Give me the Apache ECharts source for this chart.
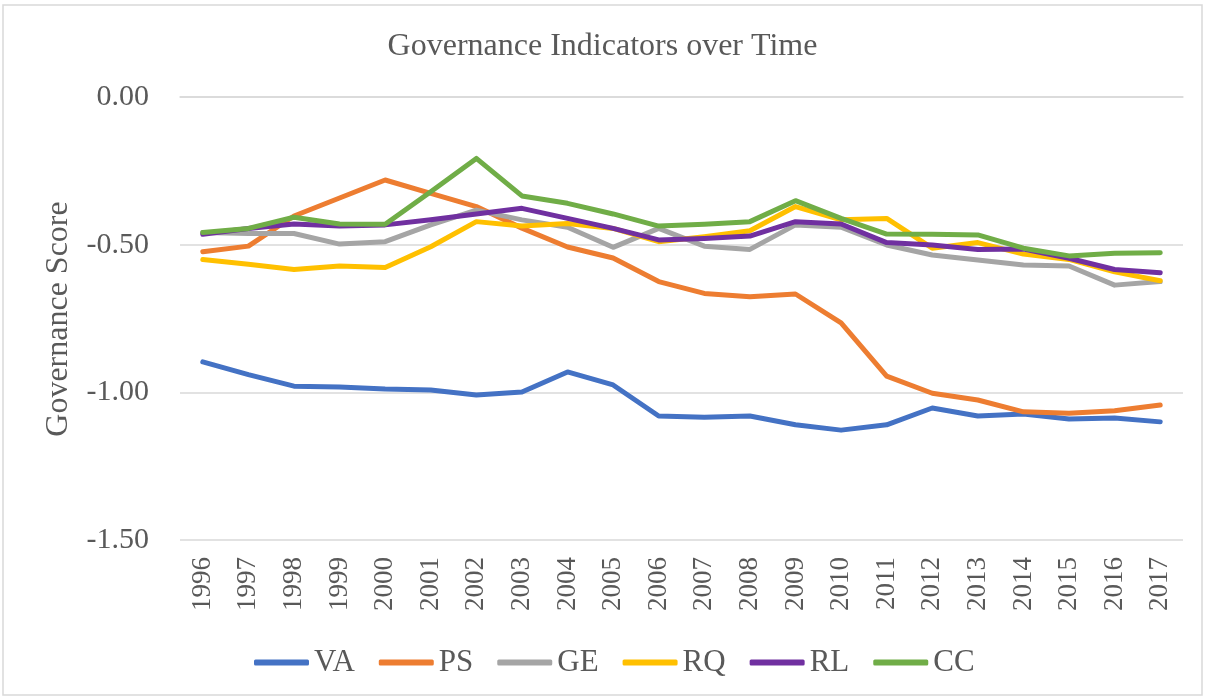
<!DOCTYPE html>
<html lang="en">
<head>
    <meta charset="UTF-8">
    <title>Governance Indicators</title>
    <style>
      html, body { margin: 0; padding: 0; background: #fff; }
    </style>
</head>
<body>
    <div id="chart" style="width:1205px; height:698px;"></div>

    <script src="https://cdn.jsdelivr.net/npm/echarts@6/dist/echarts.min.js"></script>
    <script type="text/javascript">
      var years = ['1996','1997','1998','1999','2000','2001','2002','2003','2004','2005','2006',
                   '2007','2008','2009','2010','2011','2012','2013','2014','2015','2016','2017'];
      var yTicks = [0, -0.5, -1.0, -1.5];

      var va = [-0.897,-0.940,-0.979,-0.982,-0.989,-0.992,-1.009,-0.999,-0.931,-0.975,-1.080,
                -1.084,-1.080,-1.110,-1.128,-1.110,-1.053,-1.080,-1.073,-1.090,-1.087,-1.100];
      var ps = [-0.524,-0.505,-0.403,-0.342,-0.281,-0.326,-0.371,-0.444,-0.508,-0.545,-0.625,
                -0.665,-0.676,-0.667,-0.765,-0.945,-1.003,-1.026,-1.066,-1.071,-1.062,-1.043];
      var ge = [-0.459,-0.462,-0.462,-0.498,-0.490,-0.433,-0.383,-0.416,-0.441,-0.509,-0.445,
                -0.505,-0.516,-0.433,-0.441,-0.501,-0.535,-0.552,-0.569,-0.572,-0.637,-0.625];
      var rq = [-0.550,-0.566,-0.584,-0.572,-0.577,-0.507,-0.422,-0.437,-0.428,-0.445,-0.490,
                -0.473,-0.453,-0.371,-0.416,-0.411,-0.512,-0.493,-0.532,-0.550,-0.592,-0.622];
      var rl = [-0.465,-0.445,-0.430,-0.437,-0.433,-0.416,-0.396,-0.377,-0.411,-0.445,-0.484,
                -0.479,-0.471,-0.422,-0.430,-0.493,-0.501,-0.516,-0.515,-0.546,-0.584,-0.595];
      var cc = [-0.459,-0.445,-0.407,-0.430,-0.431,-0.321,-0.208,-0.335,-0.360,-0.396,-0.437,
                -0.431,-0.422,-0.351,-0.411,-0.464,-0.465,-0.467,-0.512,-0.538,-0.529,-0.527];

      var seriesNames = ['VA','PS','GE','RQ','RL','CC'];
      var seriesData = [va, ps, ge, rq, rl, cc];
      var colors = ['#4472C4','#ED7D31','#A5A5A5','#FFC000','#7030A0','#70AD47'];

      var font = "'Liberation Serif', 'Times New Roman', serif";
      var textColor = '#595959';

      var chart = echarts.init(document.getElementById('chart'));

      var series = seriesNames.map(function (name, i) {
        return {
          name: name,
          type: 'line',
          data: seriesData[i],
          symbol: 'none',
          smooth: false,
          lineStyle: { width: 5, color: colors[i], cap: 'round', join: 'round' },
          itemStyle: { color: colors[i] },
          emphasis: { disabled: true }
        };
      });

      var option = {
        animation: false,
        color: colors,
        title: {
          text: 'Governance Indicators over Time',
          left: 'center',
          top: 26,
          textStyle: { fontFamily: font, fontSize: 32, fontWeight: 'normal', color: textColor }
        },
        legend: {
          data: seriesNames,
          top: 642,
          left: 249,
          itemWidth: 55,
          itemHeight: 6,
          itemGap: 24,
          icon: 'roundRect',
          textStyle: { fontFamily: font, fontSize: 31, color: textColor }
        },
        grid: { left: 180, right: 22, top: 97, bottom: 158, containLabel: false },
        xAxis: {
          type: 'category',
          data: years,
          boundaryGap: true,
          axisLine: { show: true, lineStyle: { color: '#d9d9d9', width: 1.5 } },
          axisTick: { show: false },
          axisLabel: { rotate: 90, margin: 17, fontFamily: font, fontSize: 27, color: textColor }
        },
        yAxis: {
          type: 'value',
          min: -1.5,
          max: 0,
          interval: 0.5,
          axisLine: { show: false },
          axisTick: { show: false },
          splitLine: { lineStyle: { color: '#d9d9d9', width: 1.5 } },
          axisLabel: {
            margin: 31,
            fontFamily: font,
            fontSize: 30,
            color: textColor,
            formatter: function (v) { return v.toFixed(2); }
          }
        },
        graphic: [{
          type: 'rect',
          shape: { x: 3, y: 5, width: 1199, height: 690 },
          style: { fill: 'none', stroke: '#d9d9d9', lineWidth: 1.5 },
          silent: true
        }, {
          type: 'text',
          x: 59,
          y: 319,
          rotation: Math.PI / 2,
          style: {
            text: 'Governance Score',
            fontFamily: font,
            fontSize: 32,
            fill: textColor,
            align: 'center',
            verticalAlign: 'middle'
          },
          silent: true
        }],
        series: series
      };

      chart.setOption(option);
    </script>
</body>
</html>
